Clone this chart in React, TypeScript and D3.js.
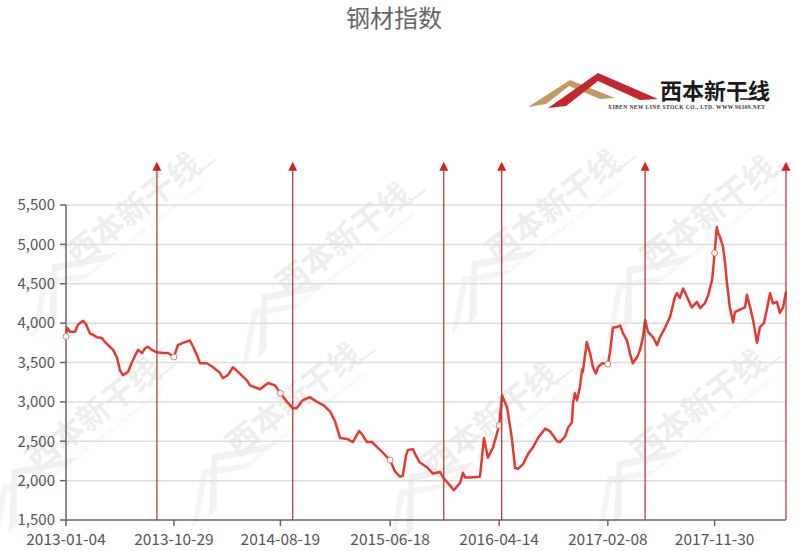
import React from "react";
import * as d3 from "d3";

const WIDTH = 800;
const HEIGHT = 551;

// steel index
const dates = [
  "2013-01-04", "2013-01-07", "2013-01-15", "2013-01-29", "2013-02-06", "2013-02-20", "2013-02-28",
  "2013-03-11", "2013-03-20", "2013-03-31", "2013-04-13", "2013-04-22", "2013-05-05", "2013-05-14",
  "2013-05-25", "2013-06-02", "2013-06-10", "2013-06-24", "2013-07-05", "2013-07-14", "2013-07-22",
  "2013-08-02", "2013-08-10", "2013-08-18", "2013-08-29", "2013-09-12", "2013-09-29", "2013-10-13",
  "2013-10-29", "2013-11-09", "2013-11-23", "2013-12-12", "2013-12-21", "2014-01-01", "2014-01-09",
  "2014-01-28", "2014-02-14", "2014-03-05", "2014-03-13", "2014-03-27", "2014-04-10", "2014-04-24",
  "2014-05-19", "2014-05-27", "2014-06-24", "2014-07-16", "2014-08-04", "2014-08-19", "2014-09-08",
  "2014-09-22", "2014-10-03", "2014-10-19", "2014-11-08", "2014-11-28", "2014-12-15", "2015-01-03",
  "2015-01-17", "2015-01-31", "2015-02-19", "2015-03-07", "2015-03-24", "2015-04-01", "2015-04-15",
  "2015-04-29", "2015-05-21", "2015-06-18", "2015-07-01", "2015-07-15", "2015-07-23", "2015-08-01",
  "2015-08-06", "2015-08-20", "2015-08-28", "2015-09-08", "2015-09-28", "2015-10-14", "2015-11-03",
  "2015-11-11", "2015-11-30", "2015-12-11", "2015-12-28", "2016-01-05", "2016-01-11", "2016-01-24",
  "2016-02-21", "2016-03-03", "2016-03-14", "2016-03-28", "2016-04-14", "2016-04-22", "2016-05-06",
  "2016-05-19", "2016-05-28", "2016-06-05", "2016-06-19", "2016-07-03", "2016-07-16", "2016-07-30",
  "2016-08-19", "2016-09-01", "2016-09-21", "2016-09-29", "2016-10-13", "2016-10-21", "2016-11-01",
  "2016-11-04", "2016-11-09", "2016-11-15", "2016-11-23", "2016-11-29", "2016-12-01", "2016-12-12",
  "2016-12-21", "2016-12-29", "2017-01-06", "2017-01-12", "2017-01-23", "2017-02-08", "2017-02-14",
  "2017-02-22", "2017-03-05", "2017-03-14", "2017-03-22", "2017-04-02", "2017-04-10", "2017-04-18",
  "2017-04-30", "2017-05-08", "2017-05-16", "2017-05-22", "2017-05-30", "2017-06-13", "2017-06-24",
  "2017-07-02", "2017-07-16", "2017-07-30", "2017-08-12", "2017-08-18", "2017-08-26", "2017-09-04",
  "2017-09-15", "2017-09-28", "2017-10-12", "2017-10-21", "2017-11-03", "2017-11-12", "2017-11-23",
  "2017-11-30", "2017-12-06", "2017-12-09", "2017-12-15", "2017-12-23", "2017-12-29", "2018-01-03",
  "2018-01-11", "2018-01-20", "2018-01-25", "2018-02-08", "2018-02-22", "2018-02-27", "2018-03-08",
  "2018-03-16", "2018-03-27", "2018-04-04", "2018-04-15", "2018-04-23", "2018-05-02", "2018-05-10",
  "2018-05-21", "2018-05-29", "2018-06-07", "2018-06-15",
];
const values = [
  3830, 3940, 3890, 3890, 3980, 4030, 3990,
  3870, 3850, 3820, 3810, 3760, 3700, 3660,
  3560, 3400, 3340, 3380, 3500, 3590, 3660,
  3620, 3680, 3700, 3660, 3630, 3620, 3620,
  3570, 3720, 3750, 3780, 3700, 3590, 3490,
  3490, 3440, 3370, 3300, 3340, 3440, 3380,
  3270, 3210, 3160, 3240, 3210, 3110, 2990,
  2920, 2920, 3020, 3060, 3000, 2960, 2880,
  2750, 2540, 2530, 2490, 2630, 2590, 2490,
  2490, 2390, 2260, 2120, 2050, 2060, 2320,
  2390, 2400, 2320, 2230, 2170, 2090, 2110,
  2040, 1940, 1880, 1970, 2100, 2040, 2040,
  2050, 2540, 2290, 2420, 2700, 3080, 2930,
  2540, 2160, 2150, 2210, 2340, 2420, 2540,
  2660, 2630, 2500, 2490, 2560, 2670, 2740,
  2980, 3110, 3020, 3190, 3410, 3380, 3760,
  3620, 3440, 3360, 3440, 3490, 3480, 3630,
  3940, 3950, 3970, 3870, 3780, 3620, 3490,
  3570, 3660, 3820, 4040, 3890, 3820, 3720,
  3820, 3940, 4080, 4330, 4380, 4320, 4440,
  4330, 4200, 4270, 4190, 4250, 4350, 4550,
  4890, 5220, 5150, 5090, 4970, 4760, 4510,
  4200, 4010, 4140, 4170, 4200, 4360, 4200,
  4040, 3750, 3950, 4000, 4170, 4380, 4250,
  4270, 4130, 4200, 4400,
];

const tickDates = ["2013-01-04", "2013-10-29", "2014-08-19", "2015-06-18", "2016-04-14", "2017-02-08", "2017-11-30"];
const yTicks = [1500, 2000, 2500, 3000, 3500, 4000, 4500, 5000, 5500];
const markerDates = ["2013-09-12", "2014-09-22", "2015-11-13", "2016-04-21", "2017-05-22", "2018-06-15"];
const markerTop = 6050;

const watermarks: [number, number][] = [
  [125, 215], [335, 245], [545, 212], [700, 218],
  [85, 420], [285, 405], [482, 425], [690, 412],
];

const parse = d3.timeParse("%Y-%m-%d");
const FONT = "'Noto Sans CJK SC', 'Noto Sans', sans-serif";

const Watermark = ({ x, y }: { x: number; y: number }) => (
  <g transform={`translate(${x},${y}) rotate(-38)`} opacity={0.075}>
    <path d="M-150,40 L-105,0 L-60,26 L-70,26 L-105,8 L-140,38 Z" fill="#777" />
    <path d="M-130,42 L-88,-6 L-30,24 L-42,25 L-88,2 L-118,40 Z" fill="#555" />
    <text x={-70} y={12} fontSize={32} fontWeight={700} fill="#222" fontFamily={FONT}>
      西本新干线
    </text>
    <line x1={82} y1={12} x2={106} y2={12} stroke="#222" strokeWidth={2} />
    <text x={-62} y={26} fontSize={6} fill="#222" fontFamily="serif">
      XIBEN NEW LINE STOCK CO., LTD. WWW.96369.NET
    </text>
  </g>
);

export default function App() {
  const data = dates.map((d, i) => ({ date: parse(d)!, value: values[i] }));

  const x = d3
    .scaleTime()
    .domain([parse("2013-01-04")!, parse("2018-06-15")!])
    .range([66, 786]);
  const y = d3.scaleLinear().domain([1500, 5500]).range([520, 205]);

  const line = d3
    .line<{ date: Date; value: number }>()
    .x((d) => x(d.date))
    .y((d) => y(d.value));

  const circles = tickDates.map((t) => data[dates.indexOf(t)]);

  return (
    <svg
      width={WIDTH}
      height={HEIGHT}
      style={{ position: "absolute", left: 0, top: 0, background: "#fff" }}
    >
      {watermarks.map(([wx, wy], i) => (
        <Watermark key={i} x={wx} y={wy} />
      ))}

      <text x={394} y={27} textAnchor="middle" fontSize={24} fill="#666" fontFamily={FONT}>
        钢材指数
      </text>

      {/* logo */}
      <g>
        <path d="M528,107 L570,80 L615,98 L600,99 L569,86 L546,104 Z" fill="#c29a62" />
        <path d="M548,108 L598,73 L658,99 L640,100 L598,81 L566,106 Z" fill="#c1272d" />
        <text x={660} y={99} fontSize={22} fontWeight={700} fill="#1a1a1a" fontFamily={FONT}>
          西本新干线
        </text>
        <line x1={740} y1={99} x2={766} y2={99} stroke="#1a1a1a" strokeWidth={1.5} />
        <text x={608} y={109} fontSize={5.5} fontWeight={700} fill="#333" fontFamily="serif" textLength={157}>
          XIBEN NEW LINE STOCK CO., LTD.  WWW.96369.NET
        </text>
      </g>

      {/* grid */}
      {yTicks.map((t) => (
        <g key={t}>
          {t > 1500 && (
            <line x1={66} x2={786} y1={y(t)} y2={y(t)} stroke="#dcdcdc" strokeWidth={1.5} />
          )}
          <line x1={60} x2={66} y1={y(t)} y2={y(t)} stroke="#666" strokeWidth={1.5} />
          <text
            x={55}
            y={y(t)}
            dy="0.35em"
            textAnchor="end"
            fontSize={15}
            fill="#555"
            fontFamily={FONT}
          >
            {d3.format(",")(t)}
          </text>
        </g>
      ))}

      {/* axes */}
      <line x1={66} x2={66} y1={y(5500)} y2={y(1500)} stroke="#666" strokeWidth={1.5} />
      <line x1={66} x2={786} y1={y(1500)} y2={y(1500)} stroke="#666" strokeWidth={1.5} />
      {tickDates.map((t) => {
        const px = x(parse(t)!);
        return (
          <g key={t}>
            <line x1={px} x2={px} y1={520} y2={526} stroke="#666" strokeWidth={1.5} />
            <text x={px} y={545} textAnchor="middle" fontSize={15.5} fill="#555" fontFamily={FONT}>
              {t}
            </text>
          </g>
        );
      })}

      {/* series */}
      <path d={line(data) || ""} fill="none" stroke="#e53a2f" strokeWidth={2.5} strokeLinejoin="round" />
      {circles.map((d, i) => (
        <circle key={i} cx={x(d.date)} cy={y(d.value)} r={3} fill="#fff" stroke="#e8776f" strokeWidth={1} />
      ))}

      {/* mark lines */}
      {markerDates.map((m) => {
        const px = x(parse(m)!);
        const top = y(markerTop);
        return (
          <g key={m}>
            <line x1={px} x2={px} y1={520} y2={top + 6} stroke="#b3302a" strokeWidth={1.2} />
            <path d={`M${px},${top} L${px - 4.5},${top + 9} L${px + 4.5},${top + 9} Z`} fill="#d71f1f" />
          </g>
        );
      })}
    </svg>
  );
}
